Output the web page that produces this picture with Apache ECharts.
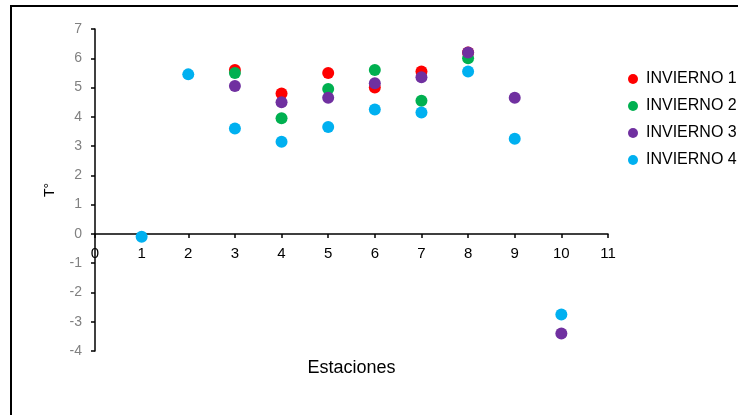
<!DOCTYPE html>
<html>
<head>
<meta charset="utf-8">
<script src="https://cdn.jsdelivr.net/npm/echarts@6/dist/echarts.min.js"></script>
<style>
  html, body { margin: 0; padding: 0; background: #fff; }
  #chart { width: 738px; height: 415px; }
</style>
</head>
<body>
<div id="chart"></div>
<script>
// Temperatura por estación, cuatro inviernos
const seriesNames = ['INVIERNO 1', 'INVIERNO 2', 'INVIERNO 3', 'INVIERNO 4']
const seriesColors = ['#ff0000', '#00b050', '#7030a0', '#00b0f0']

// [estacion, temperatura]
const invierno1 = [[3, 5.6], [4, 4.8], [5, 5.5], [6, 5.0], [7, 5.55], [8, 6.2]]
const invierno2 = [[3, 5.5], [4, 3.95], [5, 4.95], [6, 5.6], [7, 4.55], [8, 6.0]]
const invierno3 = [[3, 5.05], [4, 4.5], [5, 4.65], [6, 5.15], [7, 5.35], [8, 6.2], [9, 4.65], [10, -3.4]]
const invierno4 = [[1, -0.1], [2, 5.45], [3, 3.6], [4, 3.15], [5, 3.65], [6, 4.25], [7, 4.15], [8, 5.55], [9, 3.25], [10, -2.75]]

const chart = echarts.init(document.getElementById('chart'))

const seriesData = [invierno1, invierno2, invierno3, invierno4]

// el eje X cruza en T° = 0: se sube desde el borde inferior de la rejilla
const gridTop = 29
const gridBottom = 64
const yMin = -4
const yMax = 7
const plotHeight = 415 - gridTop - gridBottom
const xAxisOffset = -plotHeight * (0 - yMin) / (yMax - yMin)

const option = {
    animation: false,
    backgroundColor: '#fff',
    textStyle: { fontFamily: 'Liberation Sans, Arial, sans-serif' },
    graphic: [
        {
            type: 'rect',
            shape: { x: 11, y: 6, width: 800, height: 500 },
            style: { fill: 'none', stroke: '#000', lineWidth: 2 },
            silent: true,
        },
    ],
    grid: { left: 95, right: 130, top: gridTop, bottom: gridBottom, outerBoundsMode: 'none' },
    legend: {
        orient: 'vertical',
        left: 623,
        top: 66,
        itemGap: 11,
        itemWidth: 10,
        itemHeight: 10,
        icon: 'circle',
        textStyle: { fontSize: 16, color: '#000', padding: [0, 0, 0, 3] },
        data: seriesNames,
    },
    xAxis: {
        type: 'value',
        min: 0,
        max: 11,
        interval: 1,
        offset: xAxisOffset,
        name: 'Estaciones',
        nameLocation: 'middle',
        nameGap: 125,
        nameTextStyle: { fontSize: 18, color: '#000' },
        axisLine: { onZero: false, lineStyle: { color: '#000', width: 1.5 } },
        axisTick: { show: true, length: 4, lineStyle: { color: '#000', width: 1.5 } },
        axisLabel: { fontSize: 15, color: '#000', margin: 12 },
        splitLine: { show: false },
    },
    yAxis: {
        type: 'value',
        min: yMin,
        max: yMax,
        interval: 1,
        name: 'T°',
        nameLocation: 'middle',
        nameGap: 38,
        nameRotate: 90,
        nameTextStyle: { fontSize: 14, color: '#000' },
        axisLine: { onZero: false, lineStyle: { color: '#000', width: 1.5 } },
        axisTick: { show: true, length: 4, lineStyle: { color: '#000', width: 1.5 } },
        axisLabel: { fontSize: 14, color: '#808080', margin: 13 },
        splitLine: { show: false },
    },
    series: seriesNames.map((name, i) => ({
        name: name,
        type: 'scatter',
        symbol: 'circle',
        symbolSize: 12,
        itemStyle: { color: seriesColors[i], opacity: 1 },
        data: seriesData[i],
    })),
}

chart.setOption(option)
window.addEventListener('resize', () => chart.resize())
</script>
</body>
</html>
